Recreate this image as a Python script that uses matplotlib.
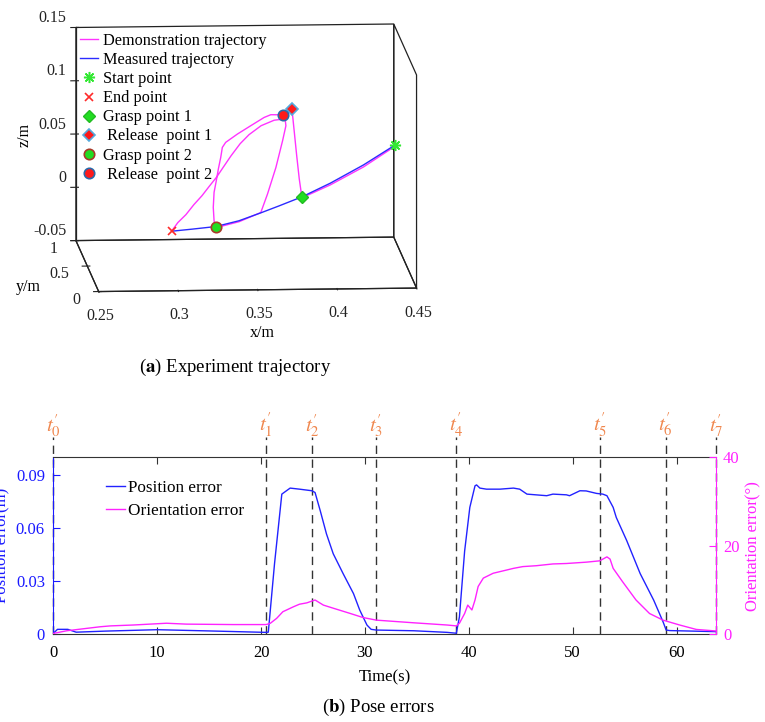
import numpy as np
import matplotlib

matplotlib.use("Agg")
from matplotlib import pyplot as plt

plt.rcParams['font.family'] = ['Liberation Serif', 'DejaVu Serif']
plt.rcParams['mathtext.fontset'] = 'stix'

# (a) trajectories, drawn in the x-z plane at y = 0
demo_x = [0.4363, 0.4166, 0.3957, 0.3779,
          0.3762, 0.3746, 0.3730, 0.3716,
          0.3699, 0.3657, 0.3583, 0.3541, 0.3457, 0.3373, 0.3299, 0.3278,
          0.3268, 0.3253, 0.3240, 0.3226, 0.3221, 0.3226, 0.3236,
          0.3383, 0.3520, 0.3562, 0.3615, 0.3657, 0.3678, 0.3672,
          0.3674, 0.3604, 0.3522, 0.3446, 0.3390, 0.3333, 0.3282, 0.3244,
          0.3194, 0.3150, 0.3099, 0.3049, 0.2998, 0.2961]
demo_z = [0.0832, 0.0642, 0.0477, 0.0359,
          0.0537, 0.0754, 0.0989, 0.1193,
          0.1161, 0.1140, 0.1142, 0.1117, 0.1041, 0.0964, 0.0887, 0.0840,
          0.0747, 0.0638, 0.0528, 0.0419, 0.0278, 0.0153, 0.0087,
          0.0141, 0.0225, 0.0397, 0.0646, 0.0896, 0.1037, 0.1115,
          0.1102, 0.1090, 0.1040, 0.0957, 0.0873, 0.0761, 0.0650, 0.0566,
          0.0473, 0.0389, 0.0306, 0.0213, 0.0139, 0.0064]
meas_x = [0.2961, 0.3087, 0.3236, 0.3383, 0.3522, 0.3636, 0.3779, 0.3957, 0.4166, 0.4363]
meas_z = [0.0059, 0.0076, 0.0098, 0.0150, 0.0223, 0.0286, 0.0368, 0.0493, 0.0661, 0.0843]
plane_y = 0.0

start_pt = (0.4363, 0.0843)
end_pt = (0.2961, 0.0059)
grasp1_pt = (0.3779, 0.0368)
release1_pt = (0.3716, 0.1193)
grasp2_pt = (0.3236, 0.0096)
release2_pt = (0.3657, 0.1140)

x_ticks = [0.25, 0.3, 0.35, 0.4, 0.45]
y_ticks = [0, 0.5, 1]
z_ticks = [-0.05, 0, 0.05, 0.1, 0.15]

# (b) pose errors
pos_t = [0, 0.4, 1.4, 2.2, 5, 10, 15, 20.4, 20.7, 21.3, 22.0, 22.8, 23.7, 24.9,
         25.2, 25.7, 26.3, 26.95, 27.9, 28.9, 29.5, 30.2, 30.6, 31.1, 34.7, 37.9,
         38.8, 39.1, 39.6, 40.1, 40.6, 40.75, 41.07, 41.7, 43.0, 44.3, 44.9, 45.6,
         47.5, 48.1, 49.4, 49.7, 50.7, 51.3, 52.3, 52.9, 53.3, 53.9, 54.2, 55.2,
         56.5, 57.8, 58.7, 59.0, 59.35, 63.8]
pos_err = [0.0005, 0.0028, 0.0028, 0.0012, 0.0018, 0.0026, 0.0019, 0.0011, 0.0012,
           0.0400, 0.0792, 0.0826, 0.0820, 0.0811, 0.0801, 0.0698, 0.0567, 0.0455,
           0.0343, 0.0230, 0.0137, 0.0052, 0.0028, 0.0024, 0.0020, 0.0011, 0.0006,
           0.0099, 0.0470, 0.0717, 0.0839, 0.0844, 0.0826, 0.0820, 0.0820, 0.0826,
           0.0820, 0.0792, 0.0783, 0.0792, 0.0788, 0.0783, 0.0811, 0.0810, 0.0796,
           0.0792, 0.0783, 0.0717, 0.0660, 0.0530, 0.0343, 0.0193, 0.0071, 0.0024,
           0.0021, 0.0015]
ori_t = [0, 1.3, 4.5, 5.5, 7.7, 10.9, 12.8, 17.3, 20.5, 20.9, 21.5, 22.1, 23.1,
         23.7, 24.4, 25.2, 26.0, 26.95, 28.6, 29.8, 31.1, 34.7, 37.9, 38.8, 39.1,
         39.6, 39.9, 40.3, 40.6, 40.9, 41.4, 42.35, 43.6, 44.3, 45.2, 46.5, 48.1,
         49.4, 51.3, 52.6, 53.3, 53.6, 53.9, 54.8, 56.1, 57.4, 58.7, 60.3, 61.9, 63.8]
ori_err = [0.2, 0.8, 1.7, 1.9, 2.1, 2.5, 2.3, 2.2, 2.2, 2.5, 3.6, 5.1, 6.2, 6.8,
           7.1, 7.75, 6.6, 5.9, 4.7, 3.8, 3.2, 2.6, 2.1, 1.9, 2.5, 4.7, 6.6, 5.5,
           7.75, 10.8, 12.7, 13.8, 14.5, 14.9, 15.3, 15.5, 15.9, 16.0, 16.3, 16.6,
           17.5, 17.0, 14.9, 11.9, 7.75, 4.7, 3.2, 2.1, 1.1, 0.75]
t_marks = [0, 20.5, 24.9, 31.06, 38.8, 52.6, 58.97, 63.8]

W, H = 765, 722
fig = plt.figure(figsize=(W / 100, H / 100), dpi=100)

def fx(px):
    return px / W

def fy(py):
    return 1 - py / H

# ---------------- (a) 3D trajectory ----------------
ax1 = fig.add_axes([fx(-5.4), fy(409.4), 490 / W, 490 / H],
                   projection='3d', proj_type='ortho')
ax1.patch.set_facecolor('none')
ax1.view_init(elev=9, azim=-94)
ax1.set_box_aspect((319, 327, 216))
ax1.set_xlim(0.25, 0.45, view_margin=0)
ax1.set_ylim(0, 1, view_margin=0)
ax1.set_zlim(-0.05, 0.15, view_margin=0)
ax1.grid(False)
for axis in (ax1.xaxis, ax1.yaxis, ax1.zaxis):
    axis.set_pane_color((1, 1, 1, 0))
    axis.pane.set_alpha(None)
    axis.pane.set_closed(True)
    axis.pane.set_edgecolor('#222222')
    axis.pane.set_linewidth(0.9)
    axis.line.set_color('#222222')
    axis.line.set_linewidth(0.9)

h_demo, = ax1.plot(demo_x, demo_z, zs=plane_y, zdir='y', color='#ff33ff', lw=1.0,
                   label='Demonstration trajectory')
h_meas, = ax1.plot(meas_x, meas_z, zs=plane_y, zdir='y', color='#2b2bff', lw=1.0,
                   label='Measured trajectory')
h_start, = ax1.plot([start_pt[0]], [start_pt[1]], zs=plane_y, zdir='y', ls='none',
                    marker=(8, 2, 0), ms=8, mew=1.1, color='#33e833', label='Start point')
h_end, = ax1.plot([end_pt[0]], [end_pt[1]], zs=plane_y, zdir='y', ls='none',
                  marker='x', ms=6, mew=1.2, color='#ff2a2a', label='End point')
h_g1, = ax1.plot([grasp1_pt[0]], [grasp1_pt[1]], zs=plane_y, zdir='y', ls='none',
                 marker='D', ms=6, mfc='#22dd22', mec='#22bb22', label='Grasp point 1')
h_r1, = ax1.plot([release1_pt[0]], [release1_pt[1]], zs=plane_y, zdir='y', ls='none',
                 marker='D', ms=6, mfc='#ff1a1a', mec='#55aadd', mew=1.2,
                 label=' Release  point 1')
h_g2, = ax1.plot([grasp2_pt[0]], [grasp2_pt[1]], zs=plane_y, zdir='y', ls='none',
                 marker='o', ms=7.5, mfc='#22dd22', mec='#a83a2a', mew=1.2,
                 label='Grasp point 2')
h_r2, = ax1.plot([release2_pt[0]], [release2_pt[1]], zs=plane_y, zdir='y', ls='none',
                 marker='o', ms=7.5, mfc='#ff1a1a', mec='#2a6aaa', mew=1.2,
                 label=' Release  point 2')

ax1.set_xticks(x_ticks)
ax1.set_xticklabels(['0.25', '0.3', '0.35', '0.4', '0.45'])
ax1.set_yticks(y_ticks)
ax1.set_yticklabels(['0', '0.5', '1'], ha='right', va='baseline')
ax1.set_zticks(z_ticks)
ax1.set_zticklabels(['-0.05', '0', '0.05', '0.1', '0.15'], ha='right', va='bottom')
ax1.tick_params(labelsize=11.5, colors='#222222')
ax1.yaxis.set_tick_params(pad=2.5)
ax1.zaxis.set_tick_params(pad=-3)

# axis names
fig.text(fx(262), fy(333), 'x/m', fontsize=11.5, ha='center', va='center')
fig.text(fx(28), fy(287), 'y/m', fontsize=11.5, ha='center', va='center')
fig.text(fx(25), fy(135), 'z/m', fontsize=11.5, ha='center', va='center', rotation=90)

ax1.legend(handles=[h_demo, h_meas, h_start, h_end, h_g1, h_r1, h_g2, h_r2],
           loc='upper left', bbox_to_anchor=(fx(80), fy(33)),
           bbox_transform=fig.transFigure, frameon=False, fontsize=11.7,
           handlelength=1.1, handletextpad=0.3, labelspacing=0.19,
           borderpad=0, borderaxespad=0, numpoints=1)

fig.text(fx(235), fy(367), r'($\mathbf{a}$) Experiment trajectory', fontsize=13.5,
         ha='center', va='center')

# ---------------- (b) pose errors ----------------
ax2 = fig.add_axes([fx(53.3), fy(634.3), 662.7 / W, 177 / H])
ax2r = ax2.twinx()

for t in t_marks:
    ax2.axvline(t, ymin=0, ymax=1.115, clip_on=False, color='#333333', lw=1.0,
                ls=(0, (6, 4)), zorder=1.5)
for i, t in enumerate(t_marks):
    ax2.text(t, 1.18, r"$t_{%d}^{\prime}$" % i, transform=ax2.get_xaxis_transform(),
             color='#f0874e', fontsize=15, ha='center', va='center')

h_pos, = ax2.plot(pos_t, pos_err, color='#2222ff', lw=1.0, label='Position error')
h_ori, = ax2r.plot(ori_t, ori_err, color='#ff22ff', lw=1.0, label='Orientation error')

ax2.set_xlim(0, 63.8)
ax2.set_ylim(0, 0.1)
ax2r.set_ylim(0, 40)
ax2.set_xticks([0, 10, 20, 30, 40, 50, 60])
ax2.set_yticks([0, 0.03, 0.06, 0.09])
ax2.set_yticklabels(['0', '0.03', '0.06', '0.09'])
ax2r.set_yticks([0, 20, 40])

ax2.tick_params(axis='x', direction='in', top=True, length=5, pad=8,
                labelsize=12, color='#333333')
ax2.tick_params(axis='y', direction='in', length=5, pad=6, labelsize=12,
                colors='#1a1aff')
ax2r.tick_params(axis='y', direction='in', length=5, pad=5, labelsize=12,
                 colors='#ff22ff')
ax2.spines['left'].set_color('#1a1aff')
ax2.spines['right'].set_visible(False)
ax2.spines['top'].set_color('#333333')
ax2.spines['bottom'].set_color('#333333')
ax2r.spines['left'].set_visible(False)
ax2r.spines['top'].set_visible(False)
ax2r.spines['bottom'].set_visible(False)
ax2r.spines['right'].set_color('#ff22ff')

ax2.set_xlabel('Time(s)', fontsize=12, labelpad=6)
ax2.set_ylabel('Position error(m)', fontsize=12, color='#1a1aff')
ax2.yaxis.set_label_coords(-0.064, 0.5)
ax2r.set_ylabel('Orientation error(°)', fontsize=12, color='#ff22ff')
ax2r.yaxis.set_label_coords(1.045, 0.5)

ax2.legend(handles=[h_pos, h_ori], loc='upper left',
           bbox_to_anchor=(fx(106), fy(480)), bbox_transform=fig.transFigure,
           frameon=False, fontsize=12.3, handlelength=1.1, handletextpad=0.2,
           labelspacing=0.41, borderpad=0, borderaxespad=0)

fig.text(fx(378), fy(707), r'($\mathbf{b}$) Pose errors', fontsize=13.5,
         ha='center', va='center')

fig.savefig('out.png', dpi=100)
